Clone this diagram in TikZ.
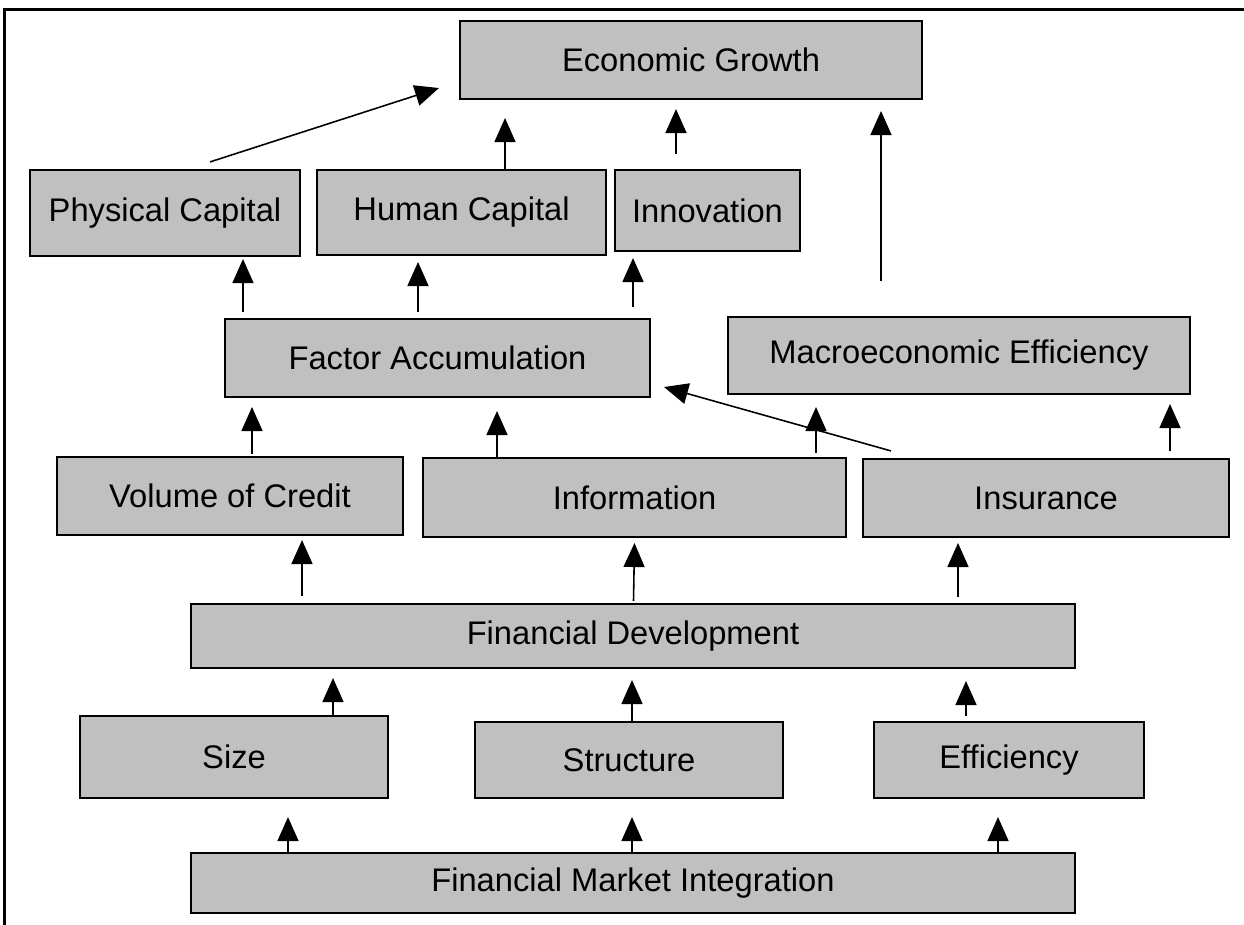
\documentclass[tikz,border=0pt]{standalone}
\usepackage{fontspec}
\setmainfont{Liberation Sans}
\usetikzlibrary{arrows.meta}
\definecolor{boxgray}{RGB}{192,192,192}

\begin{document}
\begin{tikzpicture}[
            box/.style={draw,fill=boxgray,line width=0.6pt,inner sep=0pt,
                font=\fontsize{9.3}{11}\selectfont},
            link/.style={-{Triangle[length=2.4mm,width=2.1mm]},line width=0.45pt}]
            \useasboundingbox (0,0) rectangle (12.44,-9.25);
            \draw[line width=0.6pt] (0.045,-9.25) -- (0.045,-0.095) -- (12.44,-0.095);
            \node[box,minimum width=4.62cm,minimum height=0.78cm] (growth) at (6.91,-0.60) {Economic Growth};
            \node[box,minimum width=2.70cm,minimum height=0.86cm] (physical) at (1.65,-2.13) {Physical Capital};
            \node[box,minimum width=2.89cm,minimum height=0.85cm] (human) at (4.615,-2.125) {Human Capital};
            \node[box,minimum width=1.85cm,minimum height=0.81cm] (innov) at (7.075,-2.105) {Innovation};
            \node[box,minimum width=4.25cm,minimum height=0.78cm] (factor) at (4.375,-3.58) {Factor Accumulation};
            \node[box,minimum width=4.62cm,minimum height=0.77cm] (macro) at (9.59,-3.555) {Macroeconomic Efficiency};
            \node[box,minimum width=3.46cm,minimum height=0.78cm] (credit) at (2.30,-4.96) {Volume of Credit};
            \node[box,minimum width=4.23cm,minimum height=0.79cm] (info) at (6.345,-4.975) {Information};
            \node[box,minimum width=3.66cm,minimum height=0.78cm] (insur) at (10.46,-4.98) {Insurance};
            \node[box,minimum width=8.84cm,minimum height=0.64cm] (findev) at (6.33,-6.36) {Financial Development};
            \node[box,minimum width=3.08cm,minimum height=0.82cm] (size) at (2.34,-7.57) {Size};
            \node[box,minimum width=3.08cm,minimum height=0.76cm] (struct) at (6.29,-7.60) {Structure};
            \node[box,minimum width=2.70cm,minimum height=0.76cm] (effic) at (10.09,-7.60) {Efficiency};
            \node[box,minimum width=8.84cm,minimum height=0.60cm] (integr) at (6.33,-8.83) {Financial Market Integration};
            \draw[link] ([xshift=0.45cm,yshift=0.07cm]physical.north) -- ([xshift=-0.20cm,yshift=0.12cm]growth.south west);
            \draw[link] ([xshift=0.435cm]human.north) -- ([xshift=-1.86cm,yshift=-0.18cm]growth.south);
            \draw[link] ([xshift=-0.315cm,yshift=0.15cm]innov.north) -- ([xshift=-0.15cm,yshift=-0.09cm]growth.south);
            \draw[link] ([xshift=-0.78cm,yshift=0.35cm]macro.north) -- ([xshift=1.90cm,yshift=-0.11cm]growth.south);
            \draw[link] ([xshift=-1.945cm,yshift=0.06cm]factor.north) -- ([xshift=0.78cm,yshift=-0.02cm]physical.south);
            \draw[link] ([xshift=-0.195cm,yshift=0.06cm]factor.north) -- ([xshift=-0.435cm,yshift=-0.06cm]human.south);
            \draw[link] ([xshift=1.955cm,yshift=0.11cm]factor.north) -- ([xshift=-0.745cm,yshift=-0.06cm]innov.south);
            \draw[link] ([xshift=0.22cm,yshift=0.02cm]credit.north) -- ([xshift=-1.855cm,yshift=-0.09cm]factor.south);
            \draw[link] ([xshift=-1.375cm]info.north) -- ([xshift=0.595cm,yshift=-0.13cm]factor.south);
            \draw[link] ([xshift=1.815cm,yshift=0.04cm]info.north) -- ([xshift=-1.43cm,yshift=-0.12cm]macro.south);
            \draw[link] ([xshift=-1.55cm,yshift=0.07cm]insur.north) -- ([xshift=0.13cm,yshift=0.11cm]factor.south east);
            \draw[link] ([xshift=1.24cm,yshift=0.07cm]insur.north) -- ([xshift=2.11cm,yshift=-0.09cm]macro.south);
            \draw[link] ([xshift=-3.31cm,yshift=0.07cm]findev.north) -- ([xshift=0.72cm,yshift=-0.04cm]credit.south);
            \draw[link] ([xshift=0.005cm,yshift=0.02cm]findev.north) -- ([yshift=-0.05cm]info.south);
            \draw[link] ([xshift=3.25cm,yshift=0.06cm]findev.north) -- ([xshift=-0.88cm,yshift=-0.05cm]insur.south);
            \draw[link] ([xshift=0.99cm]size.north) -- ([xshift=-3.00cm,yshift=-0.09cm]findev.south);
            \draw[link] ([xshift=0.03cm]struct.north) -- ([xshift=-0.01cm,yshift=-0.11cm]findev.south);
            \draw[link] ([xshift=-0.43cm,yshift=0.05cm]effic.north) -- ([xshift=3.33cm,yshift=-0.12cm]findev.south);
            \draw[link] ([xshift=-3.45cm]integr.north) -- ([xshift=0.54cm,yshift=-0.18cm]size.south);
            \draw[link] ([xshift=-0.01cm]integr.north) -- ([xshift=0.03cm,yshift=-0.18cm]struct.south);
            \draw[link] ([xshift=3.65cm]integr.north) -- ([xshift=-0.11cm,yshift=-0.18cm]effic.south);
        \end{tikzpicture}
\end{document}
